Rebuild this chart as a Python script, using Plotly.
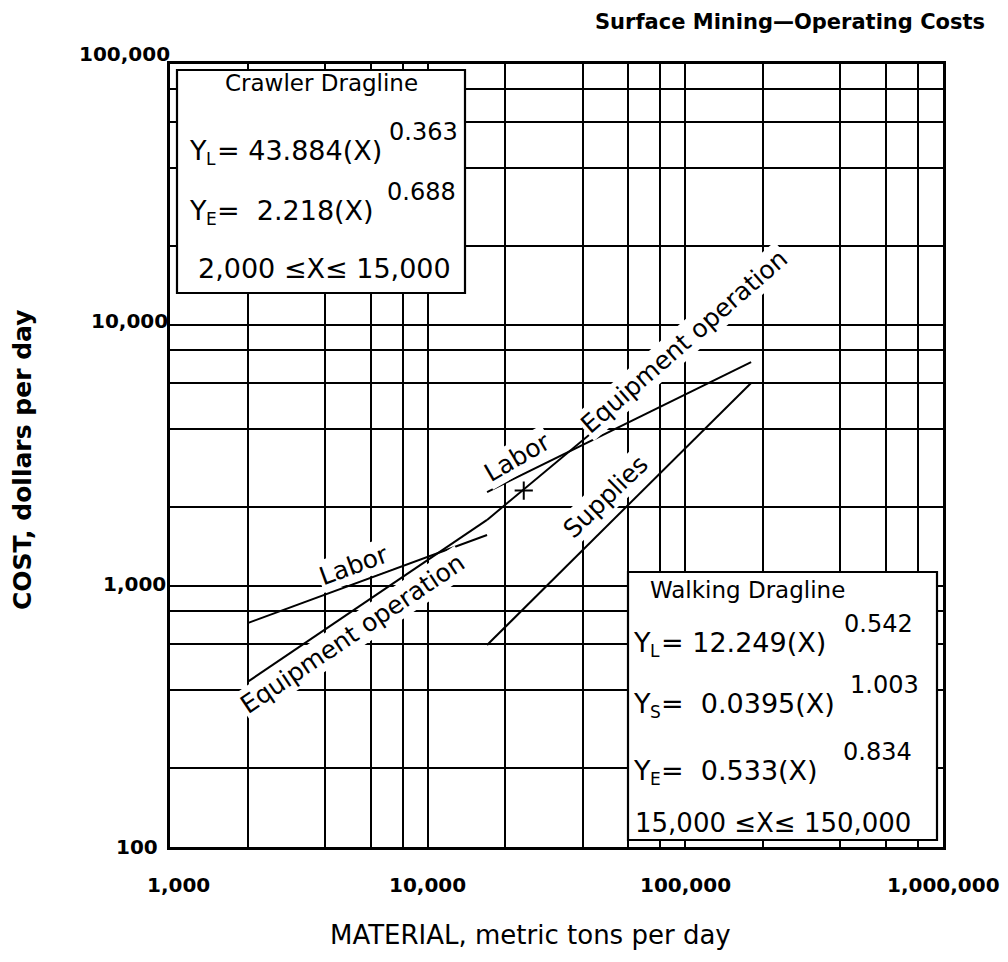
import math
import plotly.graph_objects as go

# Crawler dragline: material handled (metric tons per day) and daily costs (dollars)
crawler_x = [2000, 17000]
crawler_labor = [721, 1568]
crawler_equipment = [429, 1791]

# Walking dragline: material handled and daily costs
walking_x = [17000, 180000]
walking_labor = [2291, 7210]
walking_supplies = [594, 5998]
walking_equipment = [1791, 12470]

# Small cross mark on the walking-dragline equipment line
mark_x = [23600]
mark_y = [2320]

# Log-paper rulings
x_grid = [2000, 4000, 6000, 8000, 10000, 20000, 40000, 60000, 80000,
          100000, 200000, 400000, 600000, 800000]
y_grid = [200, 400, 600, 800, 1000, 2000, 4000, 6000, 8000,
          10000, 20000, 40000, 60000, 80000]

# Axis labels
x_tick_vals = [1000, 10000, 100000, 1000000]
x_tick_text = ["1,000", "10,000", "100,000", "1,000,000"]
y_tick_vals = [100, 1000, 10000, 100000]
y_tick_text = ["100", "1,000", "10,000", "100,000"]

W, H = 1008, 962
L, R, T, B = 170, 943, 64, 847
FONT = "DejaVu Sans"
INK = "black"


def px(x):
    return (x - L) / (R - L)


def py(y):
    return (B - y) / (B - T)


def label(text, x, y, size, anchor="left", weight="normal", **kw):
    return dict(x=px(x), y=py(y), xref="paper", yref="paper", text=text,
                showarrow=False, xanchor=anchor, yanchor="middle",
                font=dict(family=FONT, size=size, color=INK, weight=weight), **kw)


fig = go.Figure()

line_style = dict(color=INK, width=2)
for xs, ys in [(crawler_x, crawler_labor), (crawler_x, crawler_equipment),
               (walking_x, walking_labor), (walking_x, walking_supplies),
               (walking_x, walking_equipment)]:
    fig.add_trace(go.Scatter(x=xs, y=ys, mode="lines", line=line_style,
                             showlegend=False, hoverinfo="skip"))

fig.add_trace(go.Scatter(x=mark_x, y=mark_y, mode="markers", showlegend=False,
                         hoverinfo="skip",
                         marker=dict(symbol="cross-thin", size=13,
                                     line=dict(color=INK, width=2))))

annotations = []

# Tick labels
x_shift = {1000: 8}
for v, t in zip(x_tick_vals, x_tick_text):
    annotations.append(dict(x=math.log10(v), xref="x", y=py(885), yref="paper",
                            text=t, showarrow=False, xanchor="center", yanchor="middle",
                            xshift=x_shift.get(v, 0),
                            font=dict(family=FONT, size=20, color=INK, weight="bold")))
y_right = {100: 160, 1000: 168, 10000: 170, 100000: 172}
y_shift = {100000: 10, 10000: 4, 1000: 2}
for v, t in zip(y_tick_vals, y_tick_text):
    annotations.append(dict(x=px(y_right[v]), xref="paper", y=math.log10(v), yref="y",
                            text=t, showarrow=False, xanchor="right", yanchor="middle",
                            yshift=y_shift.get(v, 0),
                            font=dict(family=FONT, size=20, color=INK, weight="bold")))

# Titles
annotations.append(label("Surface Mining\u2014Operating Costs", 790, 22, 21,
                         anchor="center", weight="bold"))
annotations.append(label("MATERIAL, metric tons per day", 530, 935, 26, anchor="center"))
annotations.append(label("COST, dollars per day", 22, 460, 25, anchor="center",
                         weight="bold", textangle=-90))

# Line labels
line_labels = [
    ("Labor", 353, 565, -20),
    ("Equipment operation", 353, 634, -34),
    ("Labor", 517, 458, -30),
    ("Equipment operation", 684, 341, -41),
    ("Supplies", 606, 497, -44),
]
for text, x, y, ang in line_labels:
    annotations.append(label(text, x, y, 25, anchor="center", textangle=ang,
                             bgcolor="white", borderpad=1))

# Boxes holding the fitted equations
shapes = [
    dict(type="rect", xref="paper", yref="paper", x0=px(177), x1=px(465),
         y0=py(293), y1=py(70), fillcolor="white", line=dict(color=INK, width=2.2),
         layer="above"),
    dict(type="rect", xref="paper", yref="paper", x0=px(628), x1=px(937),
         y0=py(840), y1=py(572), fillcolor="white", line=dict(color=INK, width=2.2),
         layer="above"),
]

NB = "\u00a0"
tight = dict(borderpad=0, borderwidth=0)
# (subscript, rest of equation, exponent, left x, centre y, exponent x)
equations = [
    ("L", "= 43.884(X)", "0.363", 189, 150, 389),
    ("E", "=" + NB + NB + "2.218(X)", "0.688", 189, 210, 387),
    ("L", "= 12.249(X)", "0.542", 633, 642, 844),
    ("S", "=" + NB + NB + "0.0395(X)", "1.003", 633, 703, 850),
    ("E", "=" + NB + NB + "0.533(X)", "0.834", 633, 770, 843),
]
for sub, rest, expo, x, y, ex in equations:
    annotations.append(label("Y", x, y, 27, **tight))
    annotations.append(label(sub, x + 17, y + 9, 17, **tight))
    annotations.append(label(rest, x + 28, y, 27, **tight))
    annotations.append(label(expo, ex, y - 18, 24, **tight))

annotations.append(label("Crawler Dragline", 321, 83, 23, anchor="center"))
annotations.append(label("2,000 \u2264X\u2264 15,000", 196, 268, 27))
annotations.append(label("Walking Dragline", 747, 590, 23, anchor="center"))
annotations.append(label("15,000 \u2264X\u2264 150,000", 633, 823, 26))

fig.update_layout(
    width=W, height=H,
    margin=dict(l=L, r=W - R, t=T, b=H - B),
    paper_bgcolor="white", plot_bgcolor="white",
    showlegend=False,
    annotations=annotations,
    shapes=shapes,
    xaxis=dict(type="log", range=[3, 6], tickvals=x_grid, showticklabels=False,
               ticks="", showgrid=True, gridcolor=INK, gridwidth=2,
               showline=True, mirror=True, linecolor=INK, linewidth=2.5,
               zeroline=False, fixedrange=True),
    yaxis=dict(type="log", range=[2, 5], tickvals=y_grid, showticklabels=False,
               ticks="", showgrid=True, gridcolor=INK, gridwidth=2,
               showline=True, mirror=True, linecolor=INK, linewidth=2.5,
               zeroline=False, fixedrange=True),
)

fig.write_html("out.html")
